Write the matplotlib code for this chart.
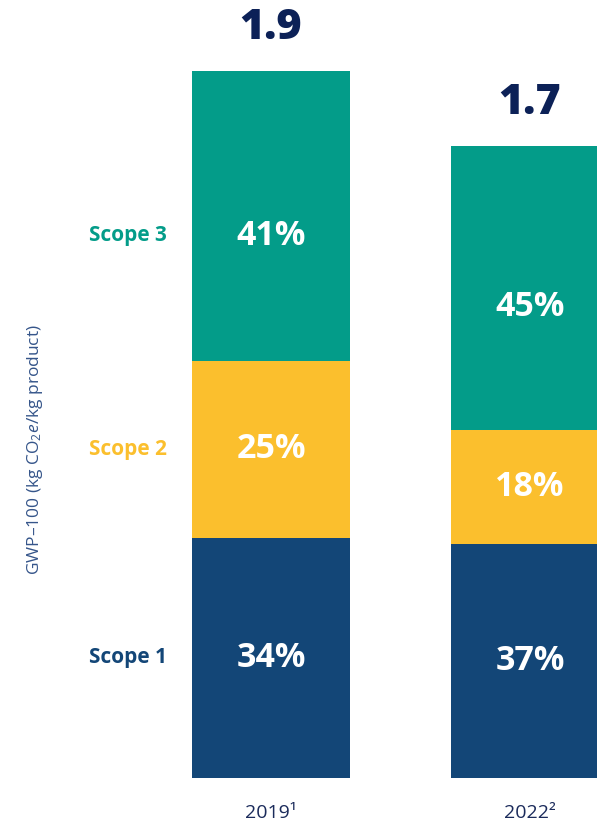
import matplotlib
matplotlib.use("Agg")
import matplotlib.pyplot as plt
import numpy as np

plt.rcParams['font.family'] = ['Open Sans', 'DejaVu Sans']
plt.rcParams['mathtext.fontset'] = 'custom'
plt.rcParams['mathtext.rm'] = 'Open Sans'
plt.rcParams['mathtext.it'] = 'Open Sans:italic'

# data
years = ['2019¹', '2022²']
totals = [1.9, 1.7]
scopes = ['Scope 1', 'Scope 2', 'Scope 3']
shares = {
    'Scope 1': [34, 37],
    'Scope 2': [25, 18],
    'Scope 3': [41, 45],
}
colors = {'Scope 1': '#134677', 'Scope 2': '#FBBF2D', 'Scope 3': '#039C89'}
total_color = '#0C2157'

fig = plt.figure(figsize=(5.97, 8.25), dpi=100)
ax = fig.add_axes([0, 47 / 825, 1, 778 / 825])

x = np.arange(len(years))
width = 0.61
bottom = np.zeros(len(years))
for s in scopes:
    vals = np.array(totals) * np.array(shares[s]) / 100
    ax.bar(x, vals, width, bottom=bottom, color=colors[s], linewidth=0)
    for i in range(len(years)):
        yc = bottom[i] + vals[i] / 2
        off = -14 if s == 'Scope 3' else 0
        ax.annotate(f"{shares[s][i]}%", (x[i], yc), xytext=(0, off),
                    textcoords='offset points', ha='center', va='center',
                    color='white', fontsize=24.5, fontweight='bold')
        if i == 0:
            ax.annotate(s, (x[0] - 0.552, yc), xytext=(0, off),
                        textcoords='offset points', ha='center', va='center',
                        color=colors[s], fontsize=15, fontweight='bold')
    bottom += vals

for i in range(len(years)):
    ax.annotate(f"{totals[i]}", (x[i], totals[i]), xytext=(0, 31),
                textcoords='offset points', ha='center', va='center',
                color=total_color, fontsize=31, fontweight='heavy')

ax.set_xlim(-271 / 259, 326 / 259)
ax.set_ylim(0, 778 / 372)
ax.set_xticks(x)
ax.set_xticklabels(years, fontsize=14, color='#1B2B5B')
ax.tick_params(axis='x', length=0, pad=19)
ax.set_yticks([])
for sp in ax.spines.values():
    sp.set_visible(False)

fig.text(35 / 597, 1 - 450 / 825, 'GWP–100 (kg CO$_2$$\\mathit{e}$/kg product)',
         rotation=90, ha='center', va='center', fontsize=12.5,
         fontweight='normal', color='#35558A')

fig.savefig('out.png', dpi=100)
